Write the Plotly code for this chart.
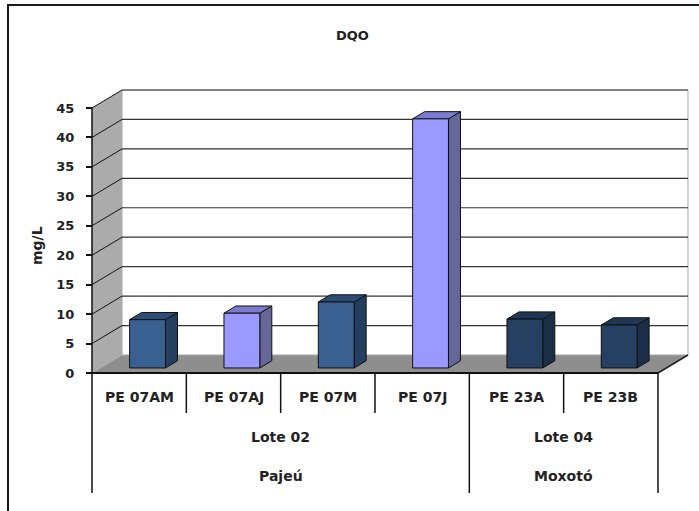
import plotly.graph_objects as go

# ---- data -------------------------------------------------------------
samples = ["PE 07AM", "PE 07AJ", "PE 07M", "PE 07J", "PE 23A", "PE 23B"]
dqo = [8.2, 9.3, 11.2, 42.3, 8.3, 7.3]          # mg/L
lotes = ["Lote 02", "Lote 04"]
lote_span = [4, 2]
bacias = ["Pajeú", "Moxotó"]
bacia_span = [4, 2]
y_ticks = [0, 5, 10, 15, 20, 25, 30, 35, 40, 45]

# (front, side, top) shading for each column
shades = {
    "blue": ("#3A6091", "#253F61", "#2D4D77"),
    "lilac": ("#9999FF", "#666699", "#7B7BD0"),
    "navy": ("#264062", "#1A2E48", "#1F3655"),
}
bar_style = ["blue", "lilac", "blue", "lilac", "navy", "navy"]

# ---- canvas / projection ---------------------------------------------
W, H = 699, 511
AXIS_PX, ZERO_PX = 92, 373          # front value axis and zero line
CAT_PX, UNIT_PX = 94.33, 5.889      # pixels per category / per mg/L
X0, X1 = -AXIS_PX / CAT_PX, (W - AXIS_PX) / CAT_PX
Y0, Y1 = -(H - ZERO_PX) / UNIT_PX, ZERO_PX / UNIT_PX

DX, DY = 30 / CAT_PX, 18 / UNIT_PX  # oblique depth of the floor
N = len(samples)
YMAX = y_ticks[-1]
F_FRONT, F_BACK = 0.28, 0.68        # column depth within the floor
BAR_W = 0.38

ROW1_Y, ROW2_Y, ROW3_Y = -24 / UNIT_PX, -64 / UNIT_PX, -103 / UNIT_PX
ROW1_BOTTOM, TABLE_BOTTOM = -40 / UNIT_PX, -120 / UNIT_PX

FONT = "DejaVu Sans"
INK = "#222222"

fig = go.Figure()


def poly(pts, fill, line_color=None, width=0):
    xs = [p[0] for p in pts] + [pts[0][0]]
    ys = [p[1] for p in pts] + [pts[0][1]]
    fig.add_trace(go.Scatter(
        x=xs, y=ys, mode="lines", fill="toself", fillcolor=fill,
        line=dict(color=line_color or fill, width=width),
        hoverinfo="skip", showlegend=False))


def segs(segments, color, width):
    xs, ys = [], []
    for (a, b) in segments:
        xs += [a[0], b[0], None]
        ys += [a[1], b[1], None]
    fig.add_trace(go.Scatter(
        x=xs, y=ys, mode="lines", line=dict(color=color, width=width),
        hoverinfo="skip", showlegend=False))


# walls and floor
poly([(0, 0), (DX, DY), (DX, YMAX + DY), (0, YMAX)], "#ABABAB")
poly([(0, 0), (N, 0), (N + DX, DY), (DX, DY)], "#8E8E8E")
poly([(DX, DY), (N + DX, DY), (N + DX, YMAX + DY), (DX, YMAX + DY)],
     "#FFFFFF", "#A8A8A8", 1)

# gridlines on the back wall and the side wall
segs([((DX, v + DY), (N + DX, v + DY)) for v in y_ticks[1:]], "#333333", 1.2)
segs([((0, v), (DX, v + DY)) for v in y_ticks[1:]], "#111111", 1)

# columns
for i, v in enumerate(dqo):
    front, side, top = shades[bar_style[i]]
    xl = i + 0.5 - BAR_W / 2
    xr = i + 0.5 + BAR_W / 2
    ax, ay = F_FRONT * DX, F_FRONT * DY
    bx, by = F_BACK * DX, F_BACK * DY
    poly([(xr + ax, ay), (xr + bx, by), (xr + bx, v + by), (xr + ax, v + ay)],
         side, "#101010", 1)
    poly([(xl + ax, v + ay), (xr + ax, v + ay), (xr + bx, v + by), (xl + bx, v + by)],
         top, "#101010", 1)
    poly([(xl + ax, ay), (xr + ax, ay), (xr + ax, v + ay), (xl + ax, v + ay)],
         front, "#101010", 1)

# floor front edge, value axis and category table
segs([((0, 0), (N, 0))], "#111111", 2)
segs([((N, 0), (N + DX, DY))], "#222222", 1.5)
segs([((0, YMAX), (0, TABLE_BOTTOM))], "#111111", 1.5)
inner = [1, 2, 3, 5]
outer = [0, 4, 6]
segs([((x, 0), (x, ROW1_BOTTOM)) for x in inner], "#111111", 1.5)
segs([((x, 0), (x, TABLE_BOTTOM)) for x in outer[1:]], "#111111", 1.5)

annotations = []
lab_font = dict(family=FONT, size=14, color=INK, weight="bold")
for i, s in enumerate(samples):
    annotations.append(dict(x=i + 0.5, y=ROW1_Y, xref="x", yref="y",
                            text=s, showarrow=False, font=lab_font))
start = 0
for name, span in zip(lotes, lote_span):
    annotations.append(dict(x=start + span / 2, y=ROW2_Y, xref="x", yref="y",
                            text=name, showarrow=False, font=lab_font))
    start += span
start = 0
for name, span in zip(bacias, bacia_span):
    annotations.append(dict(x=start + span / 2, y=ROW3_Y, xref="x", yref="y",
                            text=name, showarrow=False, font=lab_font))
    start += span

annotations.append(dict(x=352 / W, y=1 - 35 / H, xref="paper", yref="paper",
                        xanchor="center", yanchor="middle",
                        text="DQO", showarrow=False,
                        font=dict(family=FONT, size=13, color=INK, weight="bold")))
annotations.append(dict(x=37 / W, y=1 - 246 / H, xref="paper", yref="paper",
                        xanchor="center", yanchor="middle",
                        text="mg/L", showarrow=False, textangle=-90,
                        font=dict(family=FONT, size=14, color=INK, weight="bold")))

fig.update_layout(
    width=W, height=H,
    margin=dict(l=0, r=0, t=0, b=0),
    paper_bgcolor="white", plot_bgcolor="white",
    xaxis=dict(range=[X0, X1], visible=False, fixedrange=True),
    yaxis=dict(range=[Y0, Y1], anchor="free", position=AXIS_PX / W, side="left",
               tickvals=y_ticks, ticks="outside", ticklen=6, tickwidth=1.5,
               tickcolor="#111111", showgrid=False, zeroline=False,
               showline=False, ticklabelstandoff=9,
               tickfont=dict(family=FONT, size=13, color=INK, weight="bold"),
               fixedrange=True),
    annotations=annotations,
    shapes=[dict(type="rect", xref="paper", yref="paper",
                 x0=8 / W, x1=1.02, y0=-0.02, y1=1 - 5 / H,
                 line=dict(color="#1A1A1A", width=2), fillcolor="rgba(0,0,0,0)")],
)

fig.write_html("out.html")
